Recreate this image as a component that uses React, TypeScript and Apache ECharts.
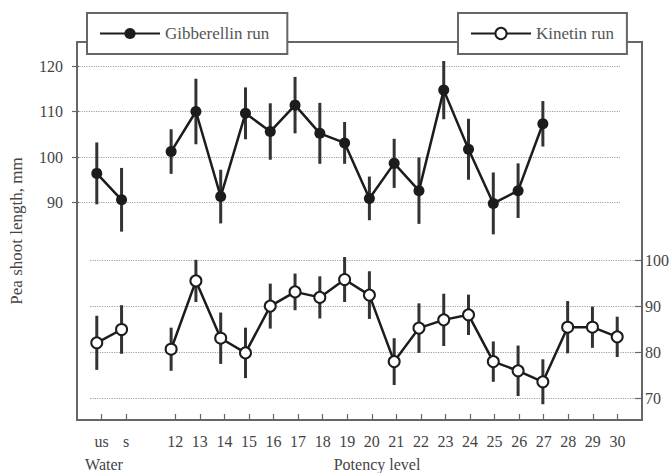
import React, { useEffect, useRef } from "react";
import * as echarts from "echarts";

// Category slots along the x axis ("" = empty slot, no tick)
const categories = [
  "", "us", "s", "", "12", "13", "14", "15", "16", "17", "18", "19", "20",
  "21", "22", "23", "24", "25", "26", "27", "28", "29", "30", "",
];

// Gibberellin run (left axis), mean and half error bar
const gibMean = [
  null, 96.4, 90.6, null, 101.2, 110.0, 91.3, 109.6, 105.6, 111.4, 105.2, 103.1,
  90.9, 98.6, 92.6, 114.7, 101.7, 89.8, 92.6, 107.3, null, null, null, null,
];
const gibErr = [
  null, 6.8, 7.0, null, 4.9, 7.2, 5.9, 5.7, 6.2, 6.2, 6.7, 4.6,
  4.8, 5.4, 7.3, 6.4, 6.7, 6.8, 6.0, 5.0, null, null, null, null,
];

// Kinetin run (right axis), mean and half error bar
const kinMean = [
  null, 82.1, 85.0, null, 80.7, 95.6, 83.1, 79.9, 90.1, 93.2, 92.0, 95.9,
  92.5, 78.0, 85.3, 87.1, 88.2, 78.0, 76.0, 73.6, 85.5, 85.5, 83.4, null,
];
const kinErr = [
  null, 5.9, 5.3, null, 4.7, 4.6, 5.6, 5.5, 4.9, 4.0, 4.6, 4.9,
  5.2, 5.1, 5.4, 5.7, 4.4, 4.4, 5.5, 4.9, 5.7, 4.5, 4.4, null,
];

const leftTicks = [90, 100, 110, 120];
const rightTicks = [70, 80, 90, 100];

const FONT = "Liberation Serif";
const INK = "#1c1c1c";
const TXT = "#444";
const FRAMEC = "#666";

const FRAME = { left: 72, top: 42, right: 642, bottom: 420 };
const TOP_GRID = { left: 72, right: 620, top: 66, bottom: 202.5 };
const BOT_GRID = { left: 90, right: 642, top: 260.7, bottom: 398.3 };

export default function App() {
  const ref = useRef<HTMLDivElement>(null);

  useEffect(() => {
    document.body.style.margin = "0";
    if (!ref.current) return;
    const chart = echarts.init(ref.current, undefined, { renderer: "svg" });

    const n = categories.length;
    const pxPerIdx = (FRAME.right - FRAME.left) / (n - 1);
    const idxRange = (g: { left: number; right: number }) => [
      (g.left - FRAME.left) / pxPerIdx,
      (g.right - FRAME.left) / pxPerIdx,
    ];
    const topRange = idxRange(TOP_GRID);
    const botRange = idxRange(BOT_GRID);

    const lineData = (arr: (number | null)[]) => arr.map((v, i) => [i, v]);
    const errData = (m: (number | null)[], e: (number | null)[]) =>
      m
        .map((v, i) => (v == null ? null : [i, v, e[i] as number]))
        .filter((d) => d != null);

    const renderErr = (_p: any, api: any) => {
      const x = api.value(0);
      const m = api.value(1);
      const e = api.value(2);
      const a = api.coord([x, m + e]);
      const b = api.coord([x, m - e]);
      return {
        type: "line",
        shape: { x1: a[0], y1: a[1], x2: b[0], y2: b[1] },
        style: { stroke: "#333", lineWidth: 3 },
      };
    };

    const legendText = {
      fontFamily: FONT,
      fontSize: 17,
      color: "#555",
      rich: { s: { fontFamily: FONT, fontSize: 17, color: "#555" } },
    };

    const legendBase = {
      top: 13,
      itemWidth: 60,
      itemHeight: 14,
      backgroundColor: "#fff",
      borderColor: FRAMEC,
      borderWidth: 2,
      borderRadius: 0,
      formatter: "{s|{name}}",
      textStyle: legendText,
    };

    const option: any = {
      animation: false,
      backgroundColor: "#fff",
      textStyle: { fontFamily: FONT },
      grid: [
        {
          left: FRAME.left,
          top: FRAME.top,
          width: FRAME.right - FRAME.left,
          height: FRAME.bottom - FRAME.top,
          show: true,
          borderColor: FRAMEC,
          borderWidth: 2,
          backgroundColor: "transparent",
        },
        {
          left: TOP_GRID.left,
          top: TOP_GRID.top,
          width: TOP_GRID.right - TOP_GRID.left,
          height: TOP_GRID.bottom - TOP_GRID.top,
        },
        {
          left: BOT_GRID.left,
          top: BOT_GRID.top,
          width: BOT_GRID.right - BOT_GRID.left,
          height: BOT_GRID.bottom - BOT_GRID.top,
        },
      ],
      xAxis: [
        {
          gridIndex: 0,
          type: "category",
          data: categories,
          boundaryGap: false,
          axisLine: { show: false },
          axisTick: {
            inside: true,
            length: 6,
            interval: (_i: number, v: string) => v !== "",
            lineStyle: { color: FRAMEC, width: 1.2 },
          },
          axisLabel: {
            interval: 0,
            margin: 13,
            fontSize: 16,
            fontFamily: FONT,
            color: TXT,
          },
          splitLine: { show: false },
        },
        { gridIndex: 1, type: "value", min: topRange[0], max: topRange[1], show: false },
        { gridIndex: 2, type: "value", min: botRange[0], max: botRange[1], show: false },
      ],
      yAxis: [
        {
          gridIndex: 0,
          type: "value",
          min: 0,
          max: 1,
          axisLine: { show: false },
          axisTick: { show: false },
          axisLabel: { show: false },
          splitLine: { show: false },
          name: "Pea shoot length, mm",
          nameLocation: "middle",
          nameGap: 52,
          nameTextStyle: { fontFamily: FONT, fontSize: 17, color: TXT },
        },
        {
          gridIndex: 1,
          type: "value",
          min: leftTicks[0],
          max: leftTicks[leftTicks.length - 1],
          interval: 10,
          axisLine: { show: false },
          axisTick: { inside: true, length: 7, lineStyle: { color: FRAMEC, width: 1.2 } },
          axisLabel: { margin: 9, fontSize: 16, fontFamily: FONT, color: TXT },
          splitLine: { lineStyle: { type: "dotted", color: "#a0a0a0", width: 1.2 } },
        },
        {
          gridIndex: 2,
          type: "value",
          position: "right",
          min: rightTicks[0],
          max: rightTicks[rightTicks.length - 1],
          interval: 10,
          axisLine: { show: false },
          axisTick: { inside: true, length: 7, lineStyle: { color: FRAMEC, width: 1.2 } },
          axisLabel: { margin: 3, fontSize: 16, fontFamily: FONT, color: TXT },
          splitLine: { lineStyle: { type: "dotted", color: "#a0a0a0", width: 1.2 } },
        },
      ],
      legend: [
        {
          ...legendBase,
          data: ["Gibberellin run"],
          left: 87,
          padding: [12, 18, 12, 12],
        },
        {
          ...legendBase,
          data: ["Kinetin run"],
          left: 458,
          padding: [12, 13, 12, 12],
        },
      ],
      graphic: [
        {
          type: "text",
          x: 104,
          y: 464,
          style: {
            text: "Water",
            fontFamily: FONT,
            fontSize: 16,
            fill: TXT,
            textAlign: "center",
            textVerticalAlign: "middle",
          },
        },
        {
          type: "text",
          x: 377,
          y: 464,
          style: {
            text: "Potency level",
            fontFamily: FONT,
            fontSize: 16,
            fill: TXT,
            textAlign: "center",
            textVerticalAlign: "middle",
          },
        },
      ],
      series: [
        {
          name: "gibErr",
          type: "custom",
          xAxisIndex: 1,
          yAxisIndex: 1,
          data: errData(gibMean, gibErr),
          renderItem: renderErr,
          clip: false,
          z: 2,
          silent: true,
        },
        {
          name: "Gibberellin run",
          type: "line",
          xAxisIndex: 1,
          yAxisIndex: 1,
          data: lineData(gibMean),
          symbol: "circle",
          symbolSize: 11,
          clip: false,
          connectNulls: false,
          itemStyle: { color: INK },
          lineStyle: { color: INK, width: 2.5 },
          z: 3,
        },
        {
          name: "kinErr",
          type: "custom",
          xAxisIndex: 2,
          yAxisIndex: 2,
          data: errData(kinMean, kinErr),
          renderItem: renderErr,
          clip: false,
          z: 2,
          silent: true,
        },
        {
          name: "Kinetin run",
          type: "line",
          xAxisIndex: 2,
          yAxisIndex: 2,
          data: lineData(kinMean),
          symbol: "circle",
          symbolSize: 11,
          clip: false,
          connectNulls: false,
          itemStyle: { color: "#fff", borderColor: INK, borderWidth: 2 },
          lineStyle: { color: INK, width: 2.5 },
          z: 3,
        },
      ],
    };

    chart.setOption(option);
    return () => chart.dispose();
  }, []);

  return <div ref={ref} style={{ width: 672, height: 473 }} />;
}
